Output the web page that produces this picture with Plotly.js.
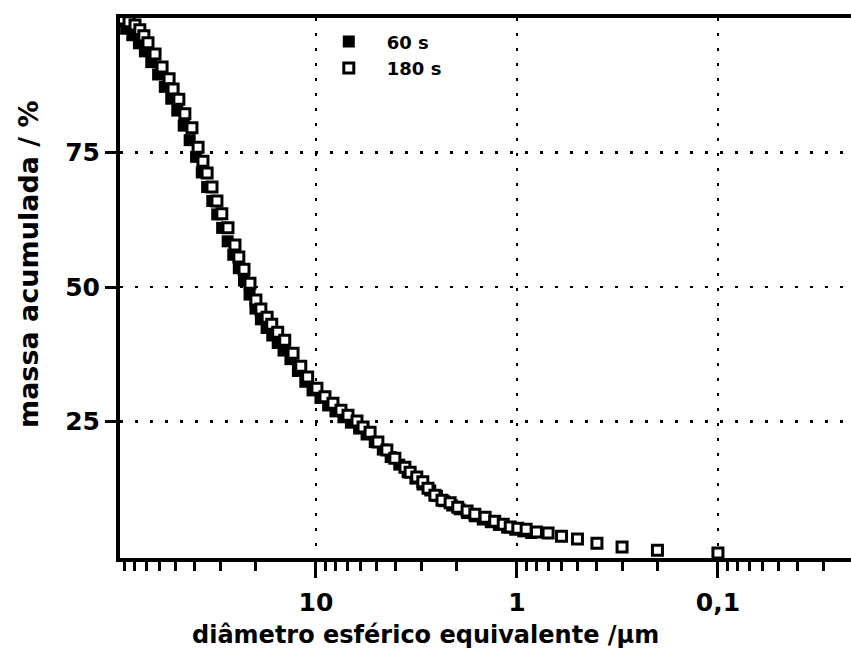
<!DOCTYPE html>
<html>
<head>
<meta charset="utf-8">
<script src="https://cdn.plot.ly/plotly-3.0.1.min.js"></script>
<style>html,body{margin:0;padding:0;background:#fff;}#chart{width:851px;height:653px;}</style>
</head>
<body>
<div id="chart"></div>
<script>
// 180 s (open squares)
const diam180 = [92.3,85.1,79.5,75.2,71.8,68.5,63.2,58.3,53.8,51.4,48.1,44.9,41.4,38.6,36.5,34.8,32.9,31.1,29.4,27.4,25.3,24.2,22.8,21.3,19.9,18.8,17.5,16.6,15.5,14.3,13.0,11.9,11.0,9.89,9.02,8.23,7.51,6.93,6.25,5.83,5.38,4.92,4.44,4.05,3.61,3.40,3.15,2.94,2.77,2.56,2.36,2.15,1.97,1.77,1.62,1.44,1.29,1.17,1.08,0.99,0.90,0.80,0.70,0.60,0.50,0.40,0.30,0.20,0.10];
const mass180 = [99.8,99.3,98.7,97.8,96.7,95.4,93.3,90.9,88.7,86.8,84.9,82.2,79.6,76.0,73.4,71.2,68.6,66.0,63.6,61.0,57.8,55.6,53.3,50.7,47.6,45.9,44.4,43.1,41.6,40.1,37.7,35.3,33.3,31.2,29.6,28.4,27.1,26.2,25.1,24.0,23.0,21.2,19.7,18.2,16.5,15.6,14.7,13.8,12.6,11.3,10.4,9.9,9.1,8.4,7.8,7.2,6.5,5.9,5.4,5.2,5.0,4.5,4.3,3.7,3.2,2.4,1.7,1.1,0.6];
// 60 s (filled squares)
const diam60 = [95,88,82,76,71,66,61,56.5,52.5,49,45.5,42.5,39.5,37,34.8,32.8,31,29.3,27.5,25.8,24.2,22.8,21.4,20,18.8,17.6,16.5,15.5,14.5,13.4,12.3,11.3,10.4,9.5,8.7,8.0,7.3,6.7,6.1,5.6,5.1,4.65,4.25,3.85,3.5,3.2,2.95,2.7,2.5,2.3,2.1,1.93,1.77,1.62,1.48,1.35,1.23,1.12,1.02,0.93,0.85];
const mass60 = [99.5,98.0,96.8,95.3,93.8,91.8,89.5,87.2,85.0,82.8,80.0,77.3,74.2,71.3,68.6,66.0,63.5,61.0,58.5,56.0,53.5,51.2,48.6,46.0,44.0,42.4,41.0,39.6,38.2,36.6,34.4,32.4,30.8,29.4,28.0,26.9,25.8,24.8,23.7,22.6,21.2,19.8,18.4,17.0,15.6,14.4,13.3,12.2,11.2,10.2,9.4,8.7,8.0,7.4,6.8,6.3,5.8,5.3,4.9,4.6,4.3];

const xTickVals = [10,1,0.1];
const xTickText = ['10','1','0,1'];
const xMinorVals = [90,80,70,60,50,40,30,20,9,8,7,6,5,4,3,2,0.9,0.8,0.7,0.6,0.5,0.4,0.3,0.2,0.09,0.08,0.07,0.06,0.05,0.04,0.03,0.02];
const yTickVals = [25,50,75];
const seriesNames = ['60 s','180 s'];
const xTitle = 'diâmetro esférico equivalente /μm';
const yTitle = 'massa acumulada / %';

const font = 'DejaVu Sans, Verdana, sans-serif';

const traces = [
  {x: diam60, y: mass60, name: seriesNames[0], type: 'scatter', mode: 'markers',
   marker: {symbol: 'square', size: 12, color: '#000', line: {width: 0}}},
  {x: diam180, y: mass180, name: seriesNames[1], type: 'scatter', mode: 'markers',
   marker: {symbol: 'square', size: 10, color: '#fff', line: {width: 3, color: '#000'}}}
];

const layout = {
  width: 851, height: 653,
  margin: {l: 120, r: 0, t: 18, b: 95},
  paper_bgcolor: '#fff', plot_bgcolor: '#fff',
  font: {family: font, color: '#000'},
  separators: ',.',
  showlegend: true,
  legend: {x: 0.261, y: 0.99, xanchor: 'left', yanchor: 'top', bgcolor: 'rgba(0,0,0,0)',
           font: {family: font, size: 18, weight: 'bold'}, itemwidth: 66},
  xaxis: {
    type: 'log', range: [1.975, -1.662], autorange: false,
    showline: true, linewidth: 4, linecolor: '#000', mirror: true,
    tickmode: 'array', tickvals: xTickVals, ticktext: xTickText,
    ticks: 'outside', ticklen: 16, tickwidth: 3, tickcolor: '#000',
    tickfont: {family: font, size: 25, weight: 'bold'}, ticklabelstandoff: 3,
    showgrid: true, gridcolor: '#000', gridwidth: 2.5, griddash: '3px,12px',
    minor: {tickmode: 'array', tickvals: xMinorVals, ticks: 'outside', ticklen: 9, tickwidth: 3, tickcolor: '#000', showgrid: false},
    zeroline: false
  },
  yaxis: {
    range: [-0.35, 100], autorange: false,
    showline: true, linewidth: 4, linecolor: '#000', mirror: false,
    tickmode: 'array', tickvals: yTickVals,
    ticks: 'outside', ticklen: 11, tickwidth: 3, tickcolor: '#000',
    tickfont: {family: font, size: 25, weight: 'bold'},
    showgrid: true, gridcolor: '#000', gridwidth: 2.5, griddash: '3px,12px',
    zeroline: false
  },
  annotations: [
    {text: xTitle, xref: 'paper', yref: 'paper', x: (425-120)/731, y: 0, yshift: -77, xanchor: 'center', yanchor: 'middle', showarrow: false,
     font: {family: font, size: 24, weight: 'bold'}},
    {text: yTitle, xref: 'paper', yref: 'paper', x: 0, xshift: -92, y: (558-264)/540, xanchor: 'center', yanchor: 'middle', textangle: -90, showarrow: false,
     font: {family: font, size: 27, weight: 'bold'}}
  ]
};

Plotly.newPlot('chart', traces, layout, {displayModeBar: false, staticPlot: true});
</script>
</body>
</html>
